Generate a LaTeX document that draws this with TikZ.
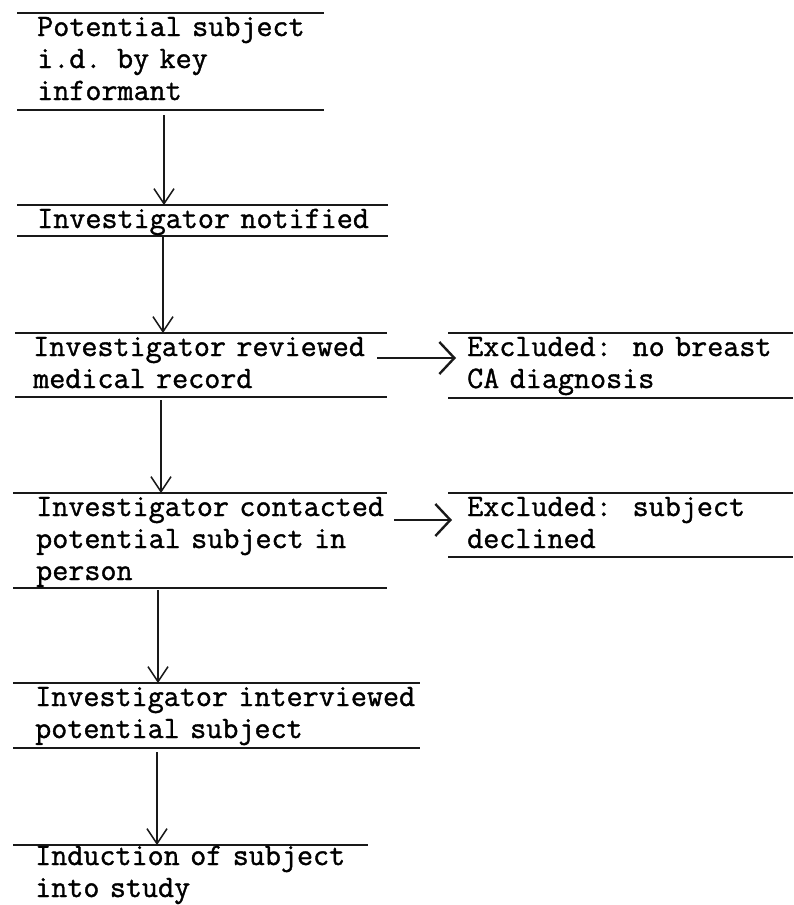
\documentclass[tikz,border=0pt]{standalone}
\usepackage{fontspec}
\setmonofont{Latin Modern Mono}[FakeBold=1.2]
\usetikzlibrary{arrows.meta,fit,calc}
\DeclareRobustCommand\mytypefont{\fontsize{31.2}{32}\selectfont\ttfamily\spaceskip=0.525em\relax}
\begin{document}
\begin{tikzpicture}[x=1pt,y=-1pt,
  area/.style={inner sep=0pt, outer sep=0pt},
  rule/.style={line width=2.2pt, black!90},
  txt/.style={anchor=base west, inner sep=0pt, align=left, text width=430pt,
    font=\mytypefont},
  varrow/.style={line width=1.5pt, black!90,
    -{Straight Barb[length=15pt,width=20pt,line width=1.5pt]}},
  harrow/.style={line width=2.8pt, black!90,
    -{Straight Barb[length=15pt,width=32pt,line width=2.4pt]}}]
\useasboundingbox (0,0) rectangle (793,905);

% box areas
\node[area, fit={(17,13) (324,110)}] (b1) {};
\node[area, fit={(17,205) (388,236)}] (b2) {};
\node[area, fit={(15,333) (387,397)}] (b3) {};
\node[area, fit={(13,493) (387,588)}] (b4) {};
\node[area, fit={(13,683) (420,748)}] (b5) {};
\node[area, fit={(13,845) (368,905)}] (b6) {};
\node[area, fit={(448,333) (793,398)}] (e1) {};
\node[area, fit={(448,493) (793,557)}] (e2) {};

% rules
\foreach \b in {b1,b2,b3,b4,b5,e1,e2}{
  \draw[rule] (\b.north west) -- (\b.north east);
  \draw[rule] (\b.south west) -- (\b.south east);
}
\draw[rule] (b6.north west) -- (b6.north east);

% texts
\node[txt] (t1) at (37,36) {Potential subject\\i.d. by key\\informant};
\node[txt] (t2) at (37,228) {Investigator notified};
\node[txt] (t3) at (33,356) {Investigator reviewed\\medical record};
\node[txt] (t4) at (36,516) {Investigator contacted\\potential subject in\\person};
\node[txt] (t5) at (35,706) {Investigator interviewed\\potential subject};
\node[txt] (t6) at (35,865) {Induction of subject\\into study};
\node[txt] (t7) at (467,356) {Excluded:\ \ no breast\\CA diagnosis};
\node[txt] (t8) at (467,516) {Excluded:\ \ subject\\declined};

% vertical connectors
\coordinate (x1) at (164,0);
\coordinate (x2) at (163,0);
\coordinate (x3) at (161,0);
\coordinate (x4) at (158,0);
\coordinate (x5) at (157,0);
\draw[varrow, shorten <=5pt] (b1.south -| x1) -- (b2.north -| x1);
\draw[varrow, shorten <=1pt] (b2.south -| x2) -- (b3.north -| x2);
\draw[varrow, shorten <=3pt] (b3.south -| x3) -- (b4.north -| x3);
\draw[varrow, shorten <=2pt] (b4.south -| x4) -- (b5.north -| x4);
\draw[varrow, shorten <=4pt] (b5.south -| x5) -- (b6.north -| x5);

% horizontal connectors
\coordinate (h1) at (377,358);
\coordinate (h2) at (394,520);
\draw[harrow] (h1) -- ($(e1.west |- h1)+(8,0)$);
\draw[harrow] (h2) -- ($(e2.west |- h2)+(4,0)$);
\end{tikzpicture}
\end{document}
